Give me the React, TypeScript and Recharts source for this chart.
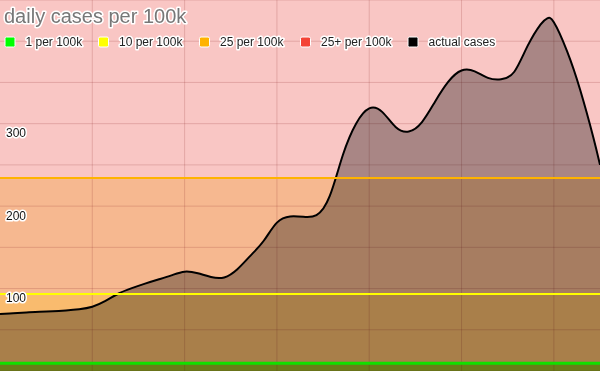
import React from 'react';
import { ComposedChart, Area, XAxis, YAxis, CartesianGrid, ReferenceArea, ReferenceLine } from 'recharts';

// day index counted from May 3
const days = [0, 2, 4, 6, 8, 10, 12, 14, 16, 18, 20, 22, 24, 26, 28, 30, 32, 34, 36, 38, 40, 42, 44, 46, 48, 50, 52, 54, 56, 58, 60, 62, 64, 66, 68, 70, 72, 74, 76, 78, 80, 82, 83, 84, 86, 88, 90, 91];
const cases = [69, 70, 71, 72, 72.5, 73.5, 75, 78, 85, 94, 100.5, 106, 111, 116, 120.5, 118.5, 114, 113.5, 123.5, 140, 158, 180, 187.5, 187, 189, 212, 262, 300, 318.5, 314, 296, 290.5, 302, 327, 351, 364.5, 363.5, 355.5, 353.8, 363, 394, 420.5, 427.8, 423, 388, 340.8, 283, 250];

const xTickDays = [14, 28, 42, 56, 70, 84];
const xTickLabels = ['May 17', 'May 31', 'June 14', 'June 28', 'July 12', 'July 26'];
const yGridTicks = [0, 50, 100, 150, 200, 250, 300, 350, 400, 450];
const yLabelTicks = [100, 200, 300];

const thresholdValues = [9.35, 93.5, 234];
const legendNames = ['1 per 100k', '10 per 100k', '25 per 100k', '25+ per 100k', 'actual cases'];
const legendColors = ['#00ff00', '#ffff00', '#ffb300', '#f44336', '#000000'];
const lineColors = ['#11e000', '#ffff00', '#ffb300'];
const bandColors = ['#9db825', '#f9bb6e', '#f6b890', '#f9c6c4'];
const title = 'daily cases per 100k';

const W = 600;
const H = 371;
const Y_MAX = 450;

const data = days.map((d, i) => ({ day: d, cases: cases[i] }));
const bandEdges = [0, ...thresholdValues, Y_MAX];

const FONT = '"Liberation Sans", Arial, sans-serif';

const XTick = (props: any) => {
  const idx = xTickDays.indexOf(props.payload.value);
  return (
    <text x={props.x} y={H - 9} textAnchor="middle" fontFamily={FONT} fontSize={12} fill="#111"
      stroke="#fff" strokeWidth={3} paintOrder="stroke" strokeLinejoin="round">
      {idx >= 0 ? xTickLabels[idx] : ''}
    </text>
  );
};

const YTick = (props: any) => {
  const v = props.payload.value;
  if (!yLabelTicks.includes(v)) return <g />;
  return (
    <text x={6} y={props.y + 13.5} textAnchor="start" fontFamily={FONT} fontSize={12} fill="#111"
      stroke="#fff" strokeWidth={3} paintOrder="stroke" strokeLinejoin="round">
      {v}
    </text>
  );
};

const legendX = [5, 98.5, 199.5, 300.5, 408];

export default function App() {
  return (
    <div style={{ position: 'fixed', left: 0, top: 0, width: W, height: H }}>
      <ComposedChart width={W} height={H} data={data} margin={{ top: 0, right: 0, bottom: 0, left: 0 }}>
        {bandEdges.slice(0, -1).map((lo, i) => (
          <ReferenceArea key={'b' + i} y1={lo} y2={bandEdges[i + 1]} fill={bandColors[i]} fillOpacity={1}
            stroke="none" ifOverflow="visible" zIndex={-300} />
        ))}
        <CartesianGrid stroke="rgba(140,40,40,0.2)" strokeWidth={1}
          horizontalValues={yGridTicks} verticalValues={xTickDays} zIndex={-100} />
        <XAxis dataKey="day" type="number" domain={[0, 91]} ticks={xTickDays} interval={0}
          height={0} axisLine={false} tickLine={false} tick={<XTick />} allowDataOverflow />
        <YAxis type="number" domain={[0, Y_MAX]} ticks={yGridTicks} interval={0} mirror
          axisLine={false} tickLine={false} tick={<YTick />} allowDataOverflow />
        <Area type="natural" dataKey="cases" stroke="#000" strokeWidth={2} fill="#000" fillOpacity={0.32}
          isAnimationActive={false} dot={false} activeDot={false} zIndex={100} />
        {thresholdValues.map((v, i) => (
          <ReferenceLine key={'t' + i} y={v} stroke={lineColors[i]} strokeWidth={i === 0 ? 3 : 2}
            ifOverflow="visible" zIndex={450} />
        ))}
      </ComposedChart>
      <svg width={W} height={60} style={{ position: 'absolute', left: 0, top: 0, pointerEvents: 'none' }}>
        <text x={4} y={22.5} fontFamily={FONT} fontSize={20} fill="#777" stroke="#fff" strokeWidth={3}
          paintOrder="stroke" strokeLinejoin="round">{title}</text>
        {legendNames.map((name, i) => (
          <g key={name}>
            <rect x={legendX[i]} y={37} width={10} height={10} rx={1.5} fill={legendColors[i]} stroke="#fff" strokeWidth={1} />
            <text x={legendX[i] + 20.5} y={46} fontFamily={FONT} fontSize={12} fill="#222" stroke="#fff"
              strokeWidth={3} paintOrder="stroke" strokeLinejoin="round">{name}</text>
          </g>
        ))}
      </svg>
    </div>
  );
}
